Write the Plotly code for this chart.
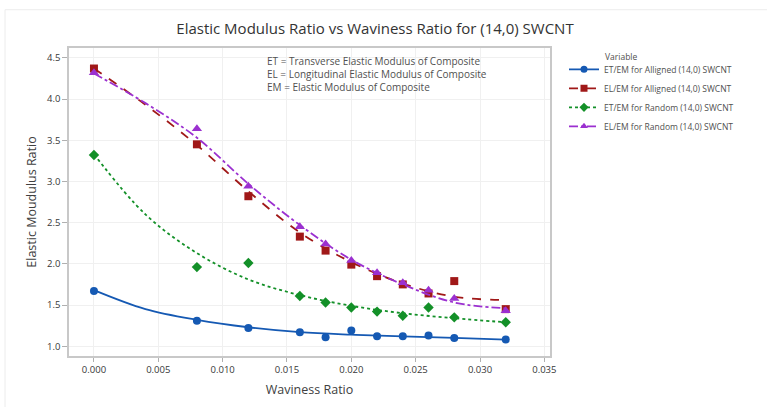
import plotly.graph_objects as go

# ---- data ----
waviness = [0.000, 0.008, 0.012, 0.016, 0.018, 0.020, 0.022, 0.024, 0.026, 0.028, 0.032]
et_aligned = [1.67, 1.31, 1.22, 1.17, 1.11, 1.19, 1.12, 1.12, 1.13, 1.10, 1.08]
el_aligned = [4.37, 3.45, 2.82, 2.33, 2.16, 1.99, 1.85, 1.75, 1.64, 1.79, 1.45]
et_random = [3.32, 1.96, 2.01, 1.61, 1.53, 1.47, 1.42, 1.37, 1.47, 1.35, 1.29]
el_random = [4.32, 3.64, 2.94, 2.45, 2.24, 2.04, 1.89, 1.77, 1.68, 1.58, 1.43]

# fitted lines as drawn in the reference
fit_x = [0.000, 0.004, 0.008, 0.012, 0.016, 0.020, 0.024, 0.028, 0.032]
fit_et_aligned = [1.68, 1.45, 1.32, 1.23, 1.17, 1.14, 1.12, 1.10, 1.08]
fit_el_aligned = [4.37, 3.93, 3.44, 2.88, 2.38, 2.02, 1.76, 1.60, 1.56]
fit_et_random = [3.33, 2.60, 2.13, 1.81, 1.62, 1.49, 1.40, 1.34, 1.29]
fit_el_random = [4.31, 3.95, 3.53, 2.97, 2.47, 2.05, 1.75, 1.53, 1.46]

series_names = [
    "ET/EM for Alligned (14,0) SWCNT",
    "EL/EM for Alligned (14,0) SWCNT",
    "ET/EM for Random (14,0) SWCNT",
    "EL/EM for Random (14,0) SWCNT",
]
x_ticks = [0.000, 0.005, 0.010, 0.015, 0.020, 0.025, 0.030, 0.035]
y_ticks = [1.0, 1.5, 2.0, 2.5, 3.0, 3.5, 4.0, 4.5]

colors = ["#1559b3", "#a01818", "#139028", "#9b30d0"]
symbols = ["circle", "square", "diamond", "triangle-up"]
dashes = ["solid", "dash", "dot", "dashdot"]
msizes = [8, 8, 8, 9]
all_series = [et_aligned, el_aligned, et_random, el_random]
all_fits = [fit_et_aligned, fit_el_aligned, fit_et_random, fit_el_random]

fig = go.Figure()
for name, ys, fy, c, s, d, ms in zip(series_names, all_series, all_fits, colors, symbols, dashes, msizes):
    fig.add_trace(go.Scatter(x=fit_x, y=fy, mode="lines", line=dict(color=c, width=1.8, dash=d, shape="spline", smoothing=1.0),
                             showlegend=False, hoverinfo="skip"))
    fig.add_trace(go.Scatter(x=waviness, y=ys, mode="markers", name=name,
                             marker=dict(color=c, symbol=s, size=ms),
                             showlegend=False))
    # legend entry showing line + marker
    fig.add_trace(go.Scatter(x=[None], y=[None], mode="lines+markers", name=name,
                             line=dict(color=c, width=1.8, dash=d),
                             marker=dict(color=c, symbol=s, size=7)))

font_family = "Open Sans, Noto Sans, sans-serif"
fig.update_layout(
    width=767, height=407,
    margin=dict(l=69, r=217, t=48, b=45),
    paper_bgcolor="white", plot_bgcolor="white",
    font=dict(family=font_family, color="#404040", size=10),
    title=dict(text="Elastic Modulus Ratio vs Waviness Ratio for (14,0) SWCNT",
               x=375 / 767, xanchor="center", y=1 - 29 / 407, yanchor="middle",
               font=dict(size=15, color="#333333", family=font_family)),
    legend=dict(x=(564 - 69) / 481, xanchor="left", y=1 - 7 / 314, yanchor="top",
                font=dict(size=8.5, color="#505050"), tracegroupgap=0,
                itemwidth=30, bgcolor="rgba(0,0,0,0)", borderwidth=0),
    xaxis=dict(range=[-0.00194, 0.03544], tickvals=x_ticks, tickformat=".3f",
               showgrid=True, gridcolor="#f0f0f0", gridwidth=1,
               showline=True, linecolor="#c8c8c8", linewidth=1.5, mirror=True,
               ticks="outside", ticklen=4, tickcolor="#b0b0b0",
               tickfont=dict(size=9.5, color="#383838"), zeroline=False,
               title=dict(text="Waviness Ratio", font=dict(size=12.5, color="#404040"), standoff=10)),
    yaxis=dict(range=[0.881, 4.619], tickvals=y_ticks, tickformat=".1f",
               showgrid=True, gridcolor="#f0f0f0", gridwidth=1,
               showline=True, linecolor="#c8c8c8", linewidth=1.5, mirror=True,
               ticks="outside", ticklen=5, tickcolor="#b0b0b0",
               tickfont=dict(size=9.5, color="#383838"), zeroline=False,
               title=dict(text="Elastic Moudulus Ratio", font=dict(size=12.5, color="#404040"), standoff=8)),
)

fig.add_annotation(xref="paper", yref="paper", x=(265 - 69) / 481, y=(362 - 61.7) / 314,
                   xanchor="left", yanchor="middle", showarrow=False, align="left",
                   text="ET = Transverse Elastic Modulus of Composite<br>"
                        "EL = Longitudinal Elastic Modulus of Composite<br>"
                        "EM = Elastic Modulus of Composite",
                   font=dict(size=10, color="#505050"), yshift=-13)
fig.add_annotation(xref="paper", yref="paper", x=(603 - 69) / 481, y=(362 - 57) / 314,
                   xanchor="left", yanchor="middle", showarrow=False,
                   text="Variable", font=dict(size=8.5, color="#505050"))

# faint outer frame of the graph region
fig.add_shape(type="rect", xref="paper", yref="paper",
              x0=(5 - 69) / 481, x1=(790 - 69) / 481, y0=(362 - 420) / 314, y1=(362 - 9) / 314,
              line=dict(color="#ececec", width=1), layer="below")

fig.write_html("out.html")
